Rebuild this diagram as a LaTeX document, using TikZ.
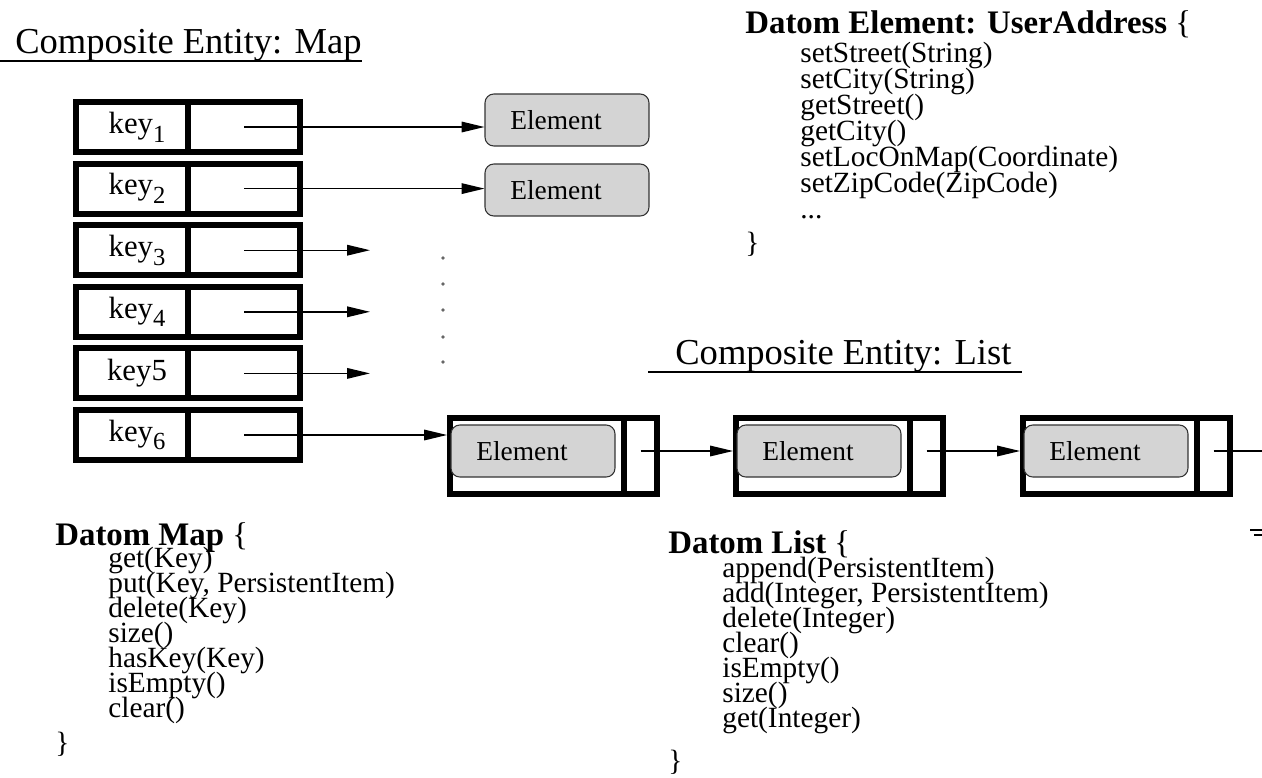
\documentclass[tikz,border=0pt]{standalone}
\usepackage{fontspec}
\setmainfont{Liberation Serif}
\usetikzlibrary{arrows.meta,positioning}
\newcommand\ksub[1]{key\raisebox{-5pt}{\fontsize{14}{14}\selectfont #1}}
\newcommand\elemtext{Element\hspace*{0.44cm}}
\begin{document}
\begin{tikzpicture}[x=0.02cm,y=-0.02cm,
  cell/.style={draw,line width=3.4pt,minimum width=2.24cm,minimum height=1cm,inner sep=0pt,font=\fontsize{17.5}{20}\selectfont},
  elem/.style={draw=black!80,line width=0.6pt,fill=black!17,rounded corners=5pt,minimum width=3.28cm,minimum height=1.04cm,font=\fontsize{15.6}{18}\selectfont},
  ptr/.style={-{Triangle[length=13pt,width=6pt]},line width=0.8pt},
  title/.style={inner sep=0pt,anchor=base west,font=\fontsize{20.8}{25}\selectfont},
  heading/.style={inner sep=0pt,anchor=base west,font=\fontsize{18.7}{22}\selectfont\bfseries},
  method/.style={inner sep=0pt,anchor=base west,font=\fontsize{16.7}{20}\selectfont},
  uline/.style={line width=1.1pt}]
\useasboundingbox (0,0) rectangle (1262,778);

\node[title] (maptitle) at (15,53) {Composite Entity: Map};
\draw[uline] (0,61) -- (362,61);
\node[title] (listtitle) at (675,364) {Composite Entity: List};
\draw[uline] (648,372) -- (1022,372);

\foreach \k [count=\i] in {\ksub{1},\ksub{2},\ksub{3},\ksub{4},key5,\ksub{6}} {
  \pgfmathsetmacro\cy{127+61.6*(\i-1)}
  \node[cell] (key\i) at (132,\cy) {\hspace*{0.2cm}\k};
  \node[cell] (ptr\i) at (244,\cy) {};
  \coordinate (end\i) at (370,\cy);
}

\node[elem] (elem1) at (567,120) {\elemtext};
\node[elem] (elem2) at (567,190) {\elemtext};
\draw[ptr] (ptr1.center) -- (ptr1.center -| elem1.west);
\draw[ptr] (ptr2.center) -- (ptr2.center -| elem2.west);
\foreach \i in {3,4,5}
  \draw[ptr] (ptr\i.center) -- (end\i);
\foreach \y in {258,284,310,337,362}
  \fill[black!60] (443,\y) circle (1.1pt);

\foreach \l [count=\i] in {447,733,1020} {
  \node[cell,minimum width=3.48cm,minimum height=1.52cm] (lcell\i) at (\l+90,456) {};
  \node[cell,minimum width=0.66cm,minimum height=1.52cm] (lptr\i) at (\l+193.5,456) {};
  \node[elem] (lelem\i) at (\l+86,451) {\elemtext};
}
\draw[ptr] (ptr6.center) -- (ptr6.center -| lcell1.west);
\draw[ptr] (lptr1.center |- lelem1.center) -- (lcell2.west |- lelem1.center);
\draw[ptr] (lptr2.center |- lelem2.center) -- (lcell3.west |- lelem2.center);
\coordinate (tail) at (1262,451);
\draw[line width=0.8pt] (lptr3.center |- lelem3.center) -- (tail);
\draw[line width=0.8pt] (1250,530) -- (1262,530) (1254,535) -- (1262,535);

\node[heading] (elemhead) at (745,33) {Datom Element: UserAddress \textmd{\{}};
\foreach \m [count=\i] in {setStreet(String),setCity(String),getStreet(),getCity(),setLocOnMap(Coordinate),setZipCode(ZipCode)}
  \node[method] (elemm\i) at (800,36+26*\i) {\m};
\node[method] (elemdots) at (800,218) {...};
\node[method] (elemend) at (745,252) {\}};

\node[heading] (maphead) at (55,545) {Datom Map \textmd{\{}};
\foreach \m [count=\i] in {get(Key),{put(Key, PersistentItem)},delete(Key),size(),hasKey(Key),isEmpty(),clear()}
  \node[method] (mapm\i) at (108,542+25*\i) {\m};
\node[method] (mapend) at (55,752) {\}};

\node[heading] (listhead) at (668,553) {Datom List \textmd{\{}};
\foreach \m [count=\i] in {append(PersistentItem),{add(Integer, PersistentItem)},delete(Integer),clear(),isEmpty(),size(),get(Integer)}
  \node[method] (listm\i) at (722,552+25*\i) {\m};
\node[method] (listend) at (668,770) {\}};
\end{tikzpicture}
\end{document}
